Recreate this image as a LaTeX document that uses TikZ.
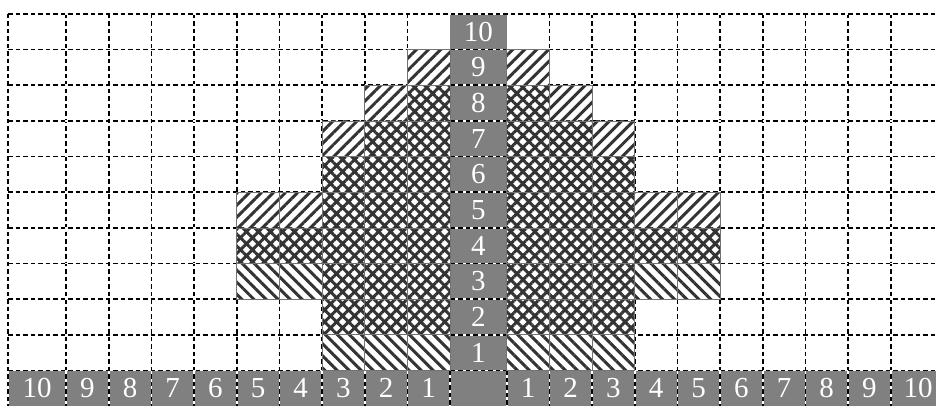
\documentclass[tikz,border=0pt]{standalone}
\usepackage{fontspec}
\setmainfont{Liberation Serif}
\usetikzlibrary{patterns.meta}
\definecolor{cellgray}{RGB}{128,128,128}
\tikzset{
  gridline/.style={line width=1.6pt, dash pattern=on 4.5pt off 3pt},
  underline/.style={white, line width=1.6pt},
  numlabel/.style={text=white, font=\fontsize{29}{31}\selectfont, inner sep=0pt},
  graycell/.style={fill=cellgray},
  nehatch/.style={pattern={Lines[angle=45,distance=8.5pt,line width=3pt]}, pattern color=black!80},
  nwhatch/.style={pattern={Lines[angle=-45,distance=8.5pt,line width=3pt]}, pattern color=black!80},
  cellborder/.style={draw=black!55, line width=0.6pt}
}
\def\xs{{8,66,108.7,151.3,194,236.7,279.3,322,364.7,407.3,450,506.7,549.3,592,634.7,677.3,720,762.7,805.3,848,890.7,936}}
\def\rh{35.636}
\begin{document}
\begin{tikzpicture}[x=1pt,y=-1pt]
\useasboundingbox (0,0) rectangle (936,406);
% gray cells
\path[graycell] (450,14) rectangle (506.7,370.3);
\path[graycell] (8,370.3) rectangle (936,406);
% vertical grid lines
\foreach \i in {0,...,9,12,13,...,20}{
  \pgfmathsetmacro\xx{\xs[\i]}
  \draw[underline] (\xx,370.3) -- (\xx,406);
  \draw[gridline] (\xx,14) -- (\xx,406);
}
\foreach \i in {10,11}{
  \pgfmathsetmacro\xx{\xs[\i]}
  \draw[underline] (\xx,370.3) -- (\xx,406);
  \draw[gridline] (\xx,370.3) -- (\xx,406);
}
% horizontal grid lines
\foreach \k in {0,...,10}{
  \pgfmathsetmacro\yy{14+\rh*\k}
  \draw[underline] (8,\yy) -- (936,\yy);
  \draw[gridline] (8,\yy) -- (936,\yy);
}
% hatched cells: col/row/ne/nw
\foreach \c/\r/\a/\b in {
  9/1/1/0, 11/1/1/0,
  8/2/1/0, 9/2/1/1, 11/2/1/1, 12/2/1/0,
  7/3/1/0, 8/3/1/1, 9/3/1/1, 11/3/1/1, 12/3/1/1, 13/3/1/0,
  7/4/1/1, 8/4/1/1, 9/4/1/1, 11/4/1/1, 12/4/1/1, 13/4/1/1,
  5/5/1/0, 6/5/1/0, 7/5/1/1, 8/5/1/1, 9/5/1/1, 11/5/1/1, 12/5/1/1, 13/5/1/1, 14/5/1/0, 15/5/1/0,
  5/6/1/1, 6/6/1/1, 7/6/1/1, 8/6/1/1, 9/6/1/1, 11/6/1/1, 12/6/1/1, 13/6/1/1, 14/6/1/1, 15/6/1/1,
  5/7/0/1, 6/7/0/1, 7/7/1/1, 8/7/1/1, 9/7/1/1, 11/7/1/1, 12/7/1/1, 13/7/1/1, 14/7/0/1, 15/7/0/1,
  7/8/1/1, 8/8/1/1, 9/8/1/1, 11/8/1/1, 12/8/1/1, 13/8/1/1,
  7/9/0/1, 8/9/0/1, 9/9/0/1, 11/9/0/1, 12/9/0/1, 13/9/0/1}{
  \pgfmathtruncatemacro\cn{\c+1}
  \pgfmathsetmacro\xa{\xs[\c]}
  \pgfmathsetmacro\xb{\xs[\cn]}
  \pgfmathsetmacro\ya{14+\rh*\r}
  \pgfmathsetmacro\yb{\ya+\rh}
  \path[fill=white] (\xa,\ya) rectangle (\xb,\yb);
  \ifnum\a=1 \path[nehatch] (\xa,\ya) rectangle (\xb,\yb); \fi
  \ifnum\b=1 \path[nwhatch] (\xa,\ya) rectangle (\xb,\yb); \fi
  \path[cellborder] (\xa,\ya) rectangle (\xb,\yb);
}
% labels in centre column
\foreach \r in {0,...,9}{
  \pgfmathtruncatemacro\n{10-\r}
  \pgfmathsetmacro\yy{14+\rh*(\r+0.5)}
  \node[numlabel] (c\n) at (478.35,\yy) {\n};
}
% labels in bottom row
\foreach \c in {0,...,9,11,12,...,19}{
  \pgfmathtruncatemacro\n{abs(10-\c)}
  \pgfmathtruncatemacro\cn{\c+1}
  \pgfmathsetmacro\xa{\xs[\c]}
  \pgfmathsetmacro\xb{\xs[\cn]}
  \pgfmathsetmacro\xx{(\xa+\xb)/2}
  \node[numlabel] (b\c) at (\xx,388.2) {\n};
}
\node[numlabel] (b20) at (918,388.2) {10};
\end{tikzpicture}
\end{document}
